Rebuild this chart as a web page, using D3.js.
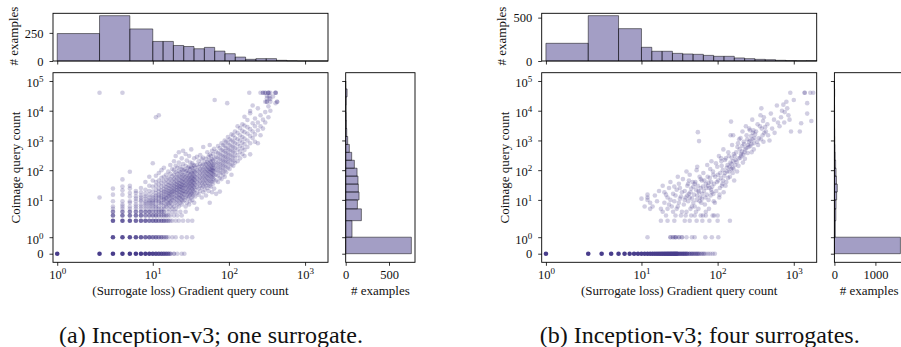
<!DOCTYPE html>
<html><head><meta charset="utf-8">
<script src="https://cdn.jsdelivr.net/npm/d3@7"></script>
<style>
html,body{margin:0;padding:0;background:#fff;}
svg{display:block;}
</style></head><body>
<svg id="c" width="901" height="347" font-family="Liberation Serif"></svg>
<script>
// ---------------- DATA ----------------
const captions = ["(a) Inception-v3; one surrogate.", "(b) Inception-v3; four surrogates."];
const xLabel = "(Surrogate loss) Gradient query count";
const yLabel = "Coimage query count";
const histLabel = "# examples";

const xTickVals = [1, 10, 100, 1000];
const xTickExp = ["0", "1", "2", "3"];
const yTickVals = [0, 1, 10, 100, 1000, 10000, 100000];
const yTickExp = [null, "0", "1", "2", "3", "4", "5"];

const topTicksA = [0, 250];
const topTicksB = [0, 500];
const rightTicksA = [0, 500];
const rightTicksB = [0, 1000];

// histogram bin edges (gradient query count / coimage query count)
const xEdges = [1, 2, 5, 10, 13.66, 18.66, 25.5, 34.8, 47.6, 65.0, 88.7, 121.2, 165.6, 226.2, 309, 422, 576.5, 787.5, 1076, 1469, 2000];
const yEdges = [0, 1, 2, 5, 10, 18.5, 34.1, 63.1, 116.6, 215.4, 398.1, 735.6, 1359, 2512, 4642, 8577, 15850, 29290, 54120, 100000];

const topCountsA = [244, 403, 285, 174, 174, 138, 129, 109, 121, 88, 65, 35, 15, 21, 21, 6, 2, 0, 0, 0];
const topCountsB = [204, 523, 373, 158, 112, 112, 88, 81, 77, 65, 54, 54, 35, 27, 19, 15, 8, 5, 3, 4];
const rightCountsA = [758, 73, 181, 135, 154, 146, 142, 131, 100, 69, 42, 23, 12, 8, 6, 4, 6, 16, 0];
const rightCountsB = [1610, 22, 35, 40, 55, 70, 50, 40, 30, 20, 15, 10, 8, 6, 5, 4, 3, 6, 0];

// scatter: stacked integer points [x, y, count]
const latticeA = [
 [1,0,244],[2,0,150],[3,0,80],[4,0,70],[5,0,50],[6,0,35],[7,0,25],[8,0,20],[9,0,15],[10,0,12],[11,0,10],[12,0,8],[13,0,7],[14,0,6],[15,0,5],[16,0,4],[17,0,3],[19,0,2],[21,0,1],[24,0,1],[26,0,1],
 [3,1,8],[4,1,8],[5,1,8],[6,1,7],[7,1,6],[8,1,5],[9,1,5],[10,1,4],[11,1,4],[12,1,3],[13,1,3],[14,1,2],[15,1,2],[16,1,1],[18,1,1],[20,1,1],[24,1,1],[28,1,1],[33,1,1],
 [3,2,6],[4,2,6],[5,2,6],[6,2,5],[7,2,5],[8,2,5],[9,2,4],[10,2,4],[11,2,4],[12,2,3],[13,2,3],[14,2,3],[15,2,2],[16,2,2],[17,2,1],[18,2,1],[20,2,1],[22,2,1],[25,2,1],[29,2,1],[33,2,1],
 [3,3,4],[4,3,4],[5,3,4],[6,3,4],[7,3,4],[8,3,3],[9,3,3],[10,3,3],[11,3,3],[12,3,2],[13,3,2],[14,3,2],[15,3,2],[16,3,1],[17,3,1],[19,3,1],[21,3,1],[24,3,1],
 [3,4,3],[4,4,3],[5,4,3],[6,4,3],[7,4,3],[8,4,3],[9,4,3],[10,4,2],[11,4,2],[12,4,2],[13,4,2],[14,4,2],[16,4,1],[18,4,1],[20,4,1],[23,4,1],[27,4,1]
];
// scatter: individual points grouped by x: [x, [y values]]
const cloudA = [
 [2,[12,40000]],[3,[24,15,9,6,5]],[4,[40000,49,28,21,15,9,7,6,5]],[5,[89,30,24,17,13,9,8,6,5]],[6,[20,17,13,11,9,7,6,5]],
 [7,[25,18,14,12,10,9,7,6,5]],[8,[40,22,16,13,11,9,8,7,6,5]],[9,[60,30,20,15,12,10,9,8,7,6,5]],
 [10,[170,45,28,19,14,12,10,9,8,7,6,5]],[11,[6000,65,40,30,22,17,14,12,10,9,7,6,5]],[12,[7000,80,45,33,24,19,15,13,11,9,8,6,5]],
 [13,[100,55,38,28,21,17,14,12,10,8,7,5]],[14,[120,60,42,30,23,19,16,13,11,10,8,6,5]],[15,[70,48,35,27,22,18,15,12,11,9,7,6]],
 [16,[90,55,40,31,25,20,17,14,13,10,8,7,5]],[17,[150,75,50,37,29,23,19,16,14,11,9,8,6]],[18,[110,62,45,33,26,21,18,15,12,10,7,5]],
 [19,[200,100,70,50,38,30,24,20,16,12,9,6]],[20,[300,140,85,58,44,34,27,22,18,14,11,8,5]],[21,[120,75,55,40,32,26,21,17,13,10,7]],
 [22,[400,180,95,65,47,36,29,24,19,15,12,9,6]],[23,[130,85,60,45,35,28,23,18,14,11,8]],[24,[250,110,78,56,42,33,27,22,17,13,10,7]],
 [25,[450,160,100,68,50,39,31,25,20,16,12,9]],[26,[105,70,50,37,28,20,15,10]],[27,[350,140,90,60,44,32,24,18,12,6]],
 [28,[210,95,65,47,35,26,19,14,8]],[29,[120,80,55,40,30,22,16,11]],[30,[300,130,88,62,46,34,25,18,13,7]],
 [31,[180,110,72,52,39,29,21,15,9]],[32,[500,125,82,58,44,33,24,17,12]],[33,[170,115,78,56,42,31,23,16,10]],
 [34,[150,95,68,50,38,28,20,14]],[35,[250,140,90,64,48,36,26,18,8]],[36,[120,85,60,45,32,22,13]],
 [38,[280,150,100,72,52,38,27,17,5]],[40,[200,130,92,66,48,35,24,15]],[42,[320,160,110,80,58,42,30,20]],
 [44,[230,140,100,72,52,37,26,12]],[46,[600,260,155,108,78,56,40,29,18]],[48,[180,125,90,65,47,34,22]],
 [50,[240,160,115,85,62,45,30,14]],[52,[400,190,135,100,75,55,38,25]],[54,[280,170,125,95,70,50,35,20]],
 [56,[700,330,210,150,110,88,65,45,30,8]],[58,[300,195,140,105,82,60,42,28]],[60,[450,230,160,120,100,78,58,40,18]],
 [62,[350,210,150,115,95,72,52,35]],[64,[520,250,165,118,90,68,48,24]],[65,[23000]],
 [68,[420,280,190,140,100,70,45,16]],[72,[650,380,260,180,130,95,65,40]],[76,[550,350,240,165,120,85,55,19]],
 [80,[800,480,320,220,160,115,80,50]],[84,[700,450,300,210,150,105,70]],[88,[1000,650,420,280,200,140,95,60]],
 [92,[900,560,380,270,190,130,85]],[95,[18000]],[97,[1300,800,520,360,250,180,120,40]],[102,[1100,700,480,330,230,160,110]],
 [108,[1600,1000,650,450,310,220,150,70]],[114,[1500,900,600,420,290,200,140]],[120,[2000,1200,800,550,380,260,180]],
 [130,[3000,1800,1100,750,500,320,200]],[140,[2600,1500,1000,650,420,250]],[150,[3500,2100,1300,850,550,350]],
 [160,[6300,3200,1900,1150,750,480,300]],[175,[4900,2800,1700,1000,600]],[185,[40000]],[190,[9800,8200,2400,1400,800,340]],
 [205,[15000,3800,2000,1200]],[220,[5500,3000,1600,900]],[240,[12000,4000,2200,800]],[260,[40000,7000,3000,1500]],
 [280,[40000,40000,5000,2500]],[300,[40000,40000,20000,9000,4000]],[315,[32000,26000,20000,20000]],
 [330,[40000,40000,40000,14000,6000]],[340,[32000,26000]],[350,[40000,20000,25000,10000]],[380,[30000]],
 [410,[40000,40000,40000,18000]],[430,[20000,20000]]
];

const latticeB = [
 [1,0,204],[2,0,200],[3,0,170],[4,0,150],[5,0,110],[6,0,90],[7,0,75],[8,0,60],[9,0,38],[10,0,35],[11,0,33],[12,0,30],[13,0,28],[14,0,26],[15,0,24],[16,0,22],[17,0,20],[18,0,19],[19,0,18],[20,0,17],[21,0,15],[22,0,14],[23,0,13],[24,0,12],[25,0,11],[26,0,10],[27,0,10],[28,0,9],[29,0,8],[30,0,8],[32,0,7],[34,0,6],[36,0,6],[38,0,5],[40,0,5],[43,0,4],[46,0,4],[49,0,3],[52,0,3],[55,0,3],[58,0,2],[62,0,2],[66,0,2],[70,0,1],[75,0,1],[80,0,1],[86,0,1],[92,0,1],
 [12,1,1],[24,1,2],[26,1,2],[28,1,3],[31,1,2],[34,1,2],[39,1,1],[46,1,1],[50,1,1],[69,1,1],[84,1,1],[102,1,1],
 [18,2,1],[22,2,1],[27,2,1],[37,2,1],[43,2,1],[53,2,1],[63,2,1],[78,2,1],[100,2,1],[145,2,1],
 [50,3,1],[60,3,1],[70,3,1],[90,3,1]
];
const cloudB = [
 [10,[11]],[11,[6]],[12,[15,12,10]],[13,[8,5]],[14,[6]],[15,[14]],[16,[9]],[17,[20]],[18,[5]],
 [19,[30,4]],[20,[18,8]],[21,[15,3]],[22,[12,5]],[23,[25,7]],[24,[40,10]],[25,[6]],
 [26,[16,4]],[27,[28,9]],[28,[14,3]],[29,[22,5]],[30,[60,6]],[31,[35,8]],[32,[25,11]],[33,[13,3]],[34,[18,4]],[35,[50]],
 [36,[7]],[37,[20,10]],[38,[12,3]],[39,[90,4]],[40,[30,14]],[41,[35,9]],[42,[45,16]],[43,[70,12]],[44,[18,5]],[45,[24,3]],[46,[11,6]],[47,[40]],[48,[28,8]],
 [49,[15]],[50,[35,6]],[51,[40]],[52,[22,4]],[53,[100,10]],[54,[130,14]],[55,[1900,30]],[56,[20,5]],[57,[950,18]],[58,[60,9]],[59,[12]],[60,[50,25]],[61,[8]],[62,[45,11]],[63,[16]],[64,[28,3]],[65,[80]],
 [66,[20]],[67,[45]],[68,[7]],[69,[12]],[70,[35,4]],[71,[25]],[72,[15]],[73,[150]],[74,[60]],[75,[30]],[76,[38,10]],[77,[5]],[78,[25]],[79,[55]],[80,[110]],[81,[14]],[82,[40,22]],[83,[200]],[84,[18]],[85,[28]],[86,[3]],[87,[90]],[88,[70,16]],[89,[9]],
 [90,[35]],[92,[8]],[93,[60]],[95,[170]],[96,[20]],[98,[40]],[99,[130]],[100,[3]],[101,[70]],[102,[45]],[104,[300]],[105,[12]],[106,[15]],[107,[25]],[108,[80]],[110,[55]],[111,[250]],[112,[200]],[113,[140]],[114,[30]],[116,[35]],[117,[100]],[118,[45]],[119,[500]],[120,[18]],[122,[65]],
 [125,[80,220]],[127,[30]],[128,[250]],[130,[40]],[132,[120]],[133,[90]],[135,[150]],[137,[55]],[138,[400]],[140,[300]],[142,[90]],[143,[130]],[145,[60]],[147,[180]],[148,[1500]],[150,[110,4300]],[152,[160]],[153,[260]],[155,[700]],[157,[120]],[158,[80]],[160,[200,1500]],[162,[110]],[163,[350]],[165,[45]],
 [168,[300]],[170,[150]],[172,[220]],[175,[400]],[178,[190]],[180,[90]],[182,[600]],[185,[800]],[188,[140]],[190,[250]],[192,[1100]],[195,[500]],[198,[260]],[200,[1200]],[202,[350]],[205,[300]],[208,[420]],[210,[650]],[212,[2000]],[215,[180]],[218,[330]],[220,[900]],[222,[750]],[225,[400]],
 [228,[240]],[230,[500]],[235,[3000]],[238,[560]],[240,[1500]],[245,[1100]],[248,[380]],[250,[700]],[255,[600]],[258,[900]],[260,[2500]],[265,[2200]],[268,[650]],[270,[1000]],[275,[1400]],[278,[750]],[280,[400]],[285,[5000]],[288,[1100]],[290,[1800]],[295,[2200]],[298,[500]],[300,[800]],[305,[1200]],
 [310,[1600]],[320,[2000]],[330,[900]],[335,[3500]],[340,[700]],[350,[1200]],[360,[3000]],[365,[7000]],[370,[1100]],[375,[12000]],[380,[2500]],[390,[1500]],[395,[4500]],[400,[900]],[405,[6000]],[410,[1800]],[420,[2800]],
 [430,[2000]],[450,[3500]],[460,[1500]],[480,[1000]],[500,[8000]],[520,[2500]],[550,[5000]],[560,[1800]],[600,[15000]],[620,[4000]],[650,[3000]],[680,[6000]],[700,[10000]],[730,[16000]],[750,[4000]],[760,[9000]],[800,[20000]],[820,[12000]],[850,[7000]],[880,[5000]],[900,[40000]],[920,[2000]],[1000,[23000]],
 [1200,[2000]],[1250,[3800]],[1390,[40000,40000]],[1500,[18000,8000]],[1650,[40000]],[1700,[4500]],[1800,[40000]]
];

// ---------------- DRAWING ----------------
const FONT = "Liberation Serif";
const POINT = '#483D8B';
const BAR_FILL = 'rgba(72,61,139,0.5)';
const BAR_EDGE = 'rgba(0,0,0,0.55)';
const ALPHA = 0.25;

// matplotlib-style symlog (base 10, linthresh 2, linscale 1)
const symT = v => { const lt = 2, lsa = 1 / (1 - 0.1), a = Math.abs(v);
  return a <= lt ? v * lsa : Math.sign(v) * lt * (lsa + Math.log10(a / lt)); };
const xLim = [0.9, 2000];
const yLim = [-0.52, 190000];

const svg = d3.select('#c');
svg.append('rect').attr('width', 901).attr('height', 347).attr('fill', '#fff');

const panels = [
  {ox: 0, lattice: latticeA, cloud: cloudA, top: topCountsA, right: rightCountsA, topMax: 424, topTicks: topTicksA, rightMax: 800, rightTicks: rightTicksA, caption: captions[0]},
  {ox: 488.7, lattice: latticeB, cloud: cloudB, top: topCountsB, right: rightCountsB, topMax: 550, topTicks: topTicksB, rightMax: 1690, rightTicks: rightTicksB, caption: captions[1]}
];

function powText(sel, e) {
  sel.append('tspan').text('10');
  sel.append('tspan').attr('dy', -5).attr('font-size', 9).text(e);
}

panels.forEach(p => {
  const ox = p.ox;
  const L = 53 + ox, R = 328 + ox, TOP = 72.7, BOT = 262.3;
  const hTop = 13.3, hBot = 61;
  const rL = 345.7 + ox, rR = 415 + ox;
  const xs = d3.scaleLinear().domain(xLim.map(symT)).range([L, R]);
  const ys = d3.scaleLinear().domain(yLim.map(symT)).range([BOT, TOP]);
  const X = v => xs(symT(v)), Y = v => ys(symT(v));
  const ty = d3.scaleLinear().domain([0, p.topMax]).range([hBot, hTop]);
  const rx = d3.scaleLinear().domain([0, p.rightMax]).range([rL, rR]);
  const g = svg.append('g').attr('font-family', FONT);

  // ---- top histogram
  const tb = p.top.map((c, i) => ({x0: xEdges[i], x1: xEdges[i + 1], c}));
  g.append('g').selectAll('path').data(tb).join('path')
    .attr('d', d => `M${X(d.x0)},${ty(0)}V${ty(d.c)}H${X(d.x1)}V${ty(0)}Z`)
    .attr('fill', BAR_FILL).attr('stroke', BAR_EDGE).attr('stroke-width', 0.9);

  // ---- right histogram
  const rb = p.right.map((c, i) => ({y0: yEdges[i], y1: yEdges[i + 1], c}));
  g.append('g').selectAll('path').data(rb).join('path')
    .attr('d', d => `M${rx(0)},${Y(d.y0)}H${rx(d.c)}V${Y(d.y1)}H${rx(0)}Z`)
    .attr('fill', BAR_FILL).attr('stroke', BAR_EDGE).attr('stroke-width', 0.9);

  // ---- scatter
  const pts = [];
  p.lattice.forEach(([x, y, n]) => pts.push({x, y, n}));
  p.cloud.forEach(([x, ys2]) => ys2.forEach(y => pts.push({x, y, n: 1})));
  g.append('g').selectAll('circle').data(pts).join('circle')
    .attr('cx', d => X(d.x)).attr('cy', d => Y(d.y)).attr('r', 2.3)
    .attr('fill', POINT).attr('fill-opacity', d => 1 - Math.pow(1 - ALPHA, d.n));

  // ---- frames
  const frame = (x0, y0, x1, y1) => g.append('rect').attr('x', x0).attr('y', y0)
    .attr('width', x1 - x0).attr('height', y1 - y0).attr('fill', 'none')
    .attr('stroke', '#000').attr('stroke-width', 0.9);
  frame(L, TOP, R, BOT);
  frame(L, hTop, R, hBot);
  frame(rL, TOP, rR, BOT);

  // ---- axes (ticks via d3 axes)
  const styleTicks = a => { a.attr('font-family', FONT).attr('font-size', 12.5);
    a.select('.domain').remove();
    a.selectAll('.tick line').attr('stroke', '#000').attr('stroke-width', 0.8); };
  const txt = a => a.selectAll('.tick text').attr('font-family', FONT).attr('font-size', 12.5).attr('fill', '#111');

  // main x
  const axX = g.append('g').attr('transform', `translate(0,${BOT})`)
    .call(d3.axisBottom(xs).tickValues(xTickVals.map(symT)).tickSize(3.5).tickSizeOuter(0).tickFormat(''));
  styleTicks(axX); txt(axX);
  axX.selectAll('.tick text').attr('y', 17.2).attr('dy', null).each(function (d, i) { powText(d3.select(this), xTickExp[i]); });

  // main y
  const axY = g.append('g').attr('transform', `translate(${L},0)`)
    .call(d3.axisLeft(ys).tickValues(yTickVals.map(symT)).tickSize(3.5).tickSizeOuter(0).tickFormat(''));
  styleTicks(axY); txt(axY);
  axY.selectAll('.tick text').attr('x', -9.5).attr('dy', null).each(function (d, i) {
    const s = d3.select(this);
    if (yTickExp[i] === null) { s.attr('y', 4.2).text('0'); } else { s.attr('y', 5.8); powText(s, yTickExp[i]); }
  });

  // top hist x ticks (no labels)
  const axTX = g.append('g').attr('transform', `translate(0,${hBot})`)
    .call(d3.axisBottom(xs).tickValues(xTickVals.map(symT)).tickSize(3.5).tickSizeOuter(0).tickFormat(''));
  styleTicks(axTX); axTX.selectAll('.tick text').remove();
  // top hist y
  const axTY = g.append('g').attr('transform', `translate(${L},0)`)
    .call(d3.axisLeft(ty).tickValues(p.topTicks).tickSize(3.5).tickSizeOuter(0).tickFormat(d3.format('d')));
  styleTicks(axTY); txt(axTY);
  axTY.selectAll('.tick text').attr('x', -9.5).attr('dy', null).attr('y', 4.2);

  // right hist y ticks (no labels)
  const axRY = g.append('g').attr('transform', `translate(${rL},0)`)
    .call(d3.axisLeft(ys).tickValues(yTickVals.map(symT)).tickSize(3.5).tickSizeOuter(0).tickFormat(''));
  styleTicks(axRY); axRY.selectAll('.tick text').remove();
  // right hist x
  const axRX = g.append('g').attr('transform', `translate(0,${BOT})`)
    .call(d3.axisBottom(rx).tickValues(p.rightTicks).tickSize(3.5).tickSizeOuter(0).tickFormat(d3.format('d')));
  styleTicks(axRX); txt(axRX);
  axRX.selectAll('.tick text').attr('y', 17.2).attr('dy', null);

  // ---- labels
  const lab = (x, y, s, size, rot) => {
    const t = g.append('text').attr('font-family', FONT).attr('font-size', size).attr('fill', '#111')
      .attr('text-anchor', 'middle').text(s);
    if (rot) t.attr('transform', `translate(${x},${y}) rotate(-90)`); else t.attr('x', x).attr('y', y);
    return t;
  };
  lab((L + R) / 2, 294.5, xLabel, 13);
  lab((rL + rR) / 2, 294.5, histLabel, 13);
  lab(20 + ox, (TOP + BOT) / 2, yLabel, 13, true);
  lab(17.5 + ox, 36, histLabel, 13, true);
  lab(211 + ox, 343, p.caption, 24);
});
</script></body></html>
